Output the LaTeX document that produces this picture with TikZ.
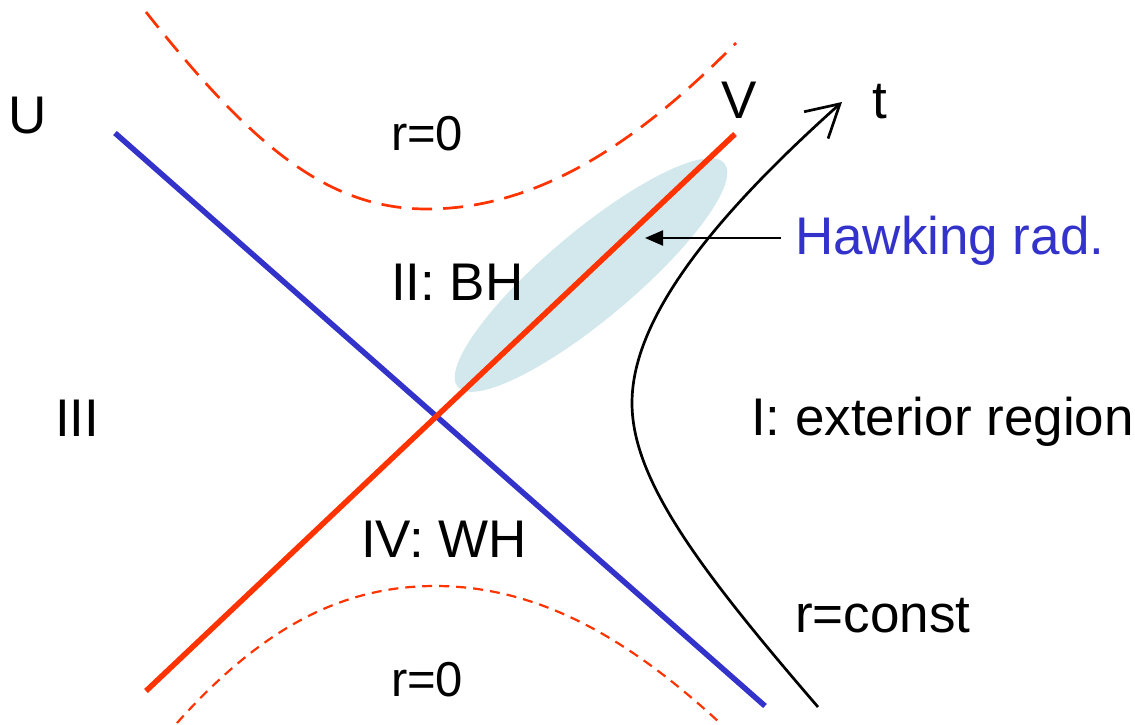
\documentclass[tikz,border=0pt]{standalone}
\usepackage{fontspec}
\setmainfont{Liberation Sans}
\usetikzlibrary{arrows.meta}
\definecolor{hred}{RGB}{255,51,0}
\definecolor{hblue}{RGB}{51,51,204}
\definecolor{hcyan}{RGB}{210,232,236}
\tikzset{
  lbl/.style={anchor=base west, inner sep=0pt, outer sep=0pt, font=\fontsize{53}{60}\selectfont},
  rlbl/.style={anchor=base west, inner sep=0pt, outer sep=0pt, font=\fontsize{49}{56}\selectfont},
  horizon/.style={line width=5.5pt},
  sing/.style={hred, line width=2.7pt},
}
\begin{document}
\begin{tikzpicture}[x=1pt,y=-1pt]
\useasboundingbox (0,0) rectangle (1135,725);
% Hawking radiation region
\fill[hcyan] (591,275) ellipse[x radius=174, y radius=44, rotate=40];
% horizons
\coordinate (u1) at (115,133);
\coordinate (u2) at (765,706);
\coordinate (v1) at (146,691);
\coordinate (v2) at (735,134);
\draw[horizon, hblue] (u1) -- (u2);
\draw[horizon, hred] (v1) -- (v2);
% singularities
\coordinate (s1) at (146,12);
\coordinate (s2) at (427,209);
\coordinate (s3) at (736,43);
\draw[sing, dash pattern=on 20pt off 11pt] (s1) .. controls (255,150) and (330,209) .. (s2) .. controls (540,209) and (640,140) .. (s3);
\coordinate (w1) at (177,723);
\coordinate (w2) at (435,586);
\coordinate (w3) at (720,723);
\draw[sing, line width=2.2pt, dash pattern=on 10pt off 7pt] (w1) .. controls (260,630) and (340,586) .. (w2) .. controls (540,586) and (630,640) .. (w3);
% r = const worldline
\coordinate (c1) at (818,707);
\coordinate (c2) at (632,403);
\coordinate (c3) at (842,102);
\draw[line width=2.7pt, -{Straight Barb[length=32pt, width=36pt, line width=2.7pt]}]
  (c1) .. controls (700,570) and (632,480) .. (c2) .. controls (632,320) and (710,220) .. (c3);
% labels
\node[lbl] (U) at (9,133) {U};
\node[lbl] (V) at (721,118) {V};
\node[lbl] (t) at (872,118) {t};
\node[rlbl] (rtop) at (391,150) {r=0};
\node[lbl] (II) at (391,300) {II: BH};
\node[lbl] (III) at (55,436) {III};
\node[lbl] (I) at (751,435) {I: exterior region};
\node[lbl] (IV) at (361,557) {IV: WH};
\node[lbl] (rc) at (795,632) {r=const};
\node[rlbl] (rbot) at (391,696) {r=0};
\node[lbl, text=hblue] (hawk) at (795,254) {Hawking rad.};
% Hawking arrow
\coordinate (hs) at (781,238);
\coordinate (ht) at (645,238);
\draw[line width=2.2pt, -{Triangle[length=18pt, width=15pt]}] (hs) -- (ht);
\end{tikzpicture}
\end{document}
